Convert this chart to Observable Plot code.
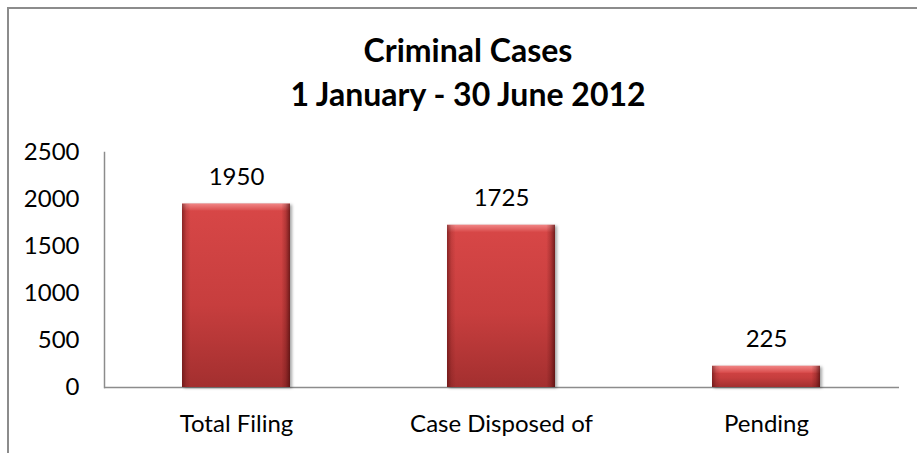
<!DOCTYPE html>
<html>
<head>
<meta charset="utf-8">
<script src="https://cdn.jsdelivr.net/npm/d3@7"></script>
<script src="https://cdn.jsdelivr.net/npm/@observablehq/plot@0.6"></script>
<style>
  html, body { margin: 0; padding: 0; background: #fff; }
  #wrap { position: relative; width: 917px; height: 453px; overflow: hidden; font-family: Lato, "Open Sans", sans-serif; }
  #border { position: absolute; left: 7px; top: 7px; width: 930px; height: 470px; border-left: 2px solid #8c8c8c; border-top: 2px solid #8c8c8c; }
  #chart { position: absolute; left: 0; top: 0; }
  #title { position: absolute; left: 0; top: 28px; width: 936px; text-align: center; font-weight: bold; font-size: 32px; line-height: 44px; color: #000; }
</style>
</head>
<body>
<div id="wrap">
  <div id="border"></div>
  <div id="chart"></div>
  <div id="title"></div>
</div>
<script>
const categories = ["Total Filing", "Case Disposed of", "Pending"];
const values = [1950, 1725, 225];
const yTicks = [0, 500, 1000, 1500, 2000, 2500];
const titleLines = ["Criminal Cases", "1 January - 30 June 2012"];

const data = categories.map((c, i) => ({category: c, value: values[i]}));

document.getElementById("title").innerHTML = titleLines.map(t => `<div>${t}</div>`).join("");

const plot = Plot.plot({
  width: 917,
  height: 453,
  marginLeft: 104,
  marginRight: 18,
  marginTop: 152,
  marginBottom: 66,
  style: {fontFamily: "Lato, 'Open Sans', sans-serif", fontSize: "24px", color: "#000", background: "transparent", overflow: "visible"},
  x: {domain: categories, paddingInner: 0.592, paddingOuter: 0.296},
  y: {domain: [0, 2500]},
  marks: [
    Plot.ruleY([0], {stroke: "#8c8c8c", strokeWidth: 1.5}),
    Plot.frame({anchor: "left", stroke: "#8c8c8c", strokeWidth: 1.5}),
    Plot.barY(data, {x: "category", y: "value", fill: "#000", fillOpacity: 0.35, dx: 2, dy: 1}),
    Plot.barY(data, {x: "category", y: "value", fill: "url(#gBody)"}),
    Plot.barY(data, {x: "category", y1: "value", y2: "value", insetBottom: -7, fill: "url(#gBevel)"}),
    Plot.barY(data, {x: "category", y: "value", fill: "url(#gSide)"}),
    Plot.text(data, {x: "category", y: "value", text: d => String(d.value), dy: -27, fill: "#000"}),
    Plot.axisY(yTicks, {tickSize: 0, tickPadding: 25, label: null, fill: "#000", tickFormat: d => String(d)}),
    Plot.axisX({tickSize: 0, tickPadding: 27, label: null, fill: "#000"})
  ]
});

const svg = d3.select(plot);
const defs = svg.insert("defs", ":first-child");
function grad(id, x2, y2, stops) {
  const g = defs.append("linearGradient").attr("id", id)
    .attr("x1", 0).attr("y1", 0).attr("x2", x2).attr("y2", y2);
  stops.forEach(([o, c, a]) => g.append("stop").attr("offset", o).attr("stop-color", c).attr("stop-opacity", a == null ? 1 : a));
}
grad("gBody", 0, 1, [["0%", "#d84747"], ["55%", "#c73e3e"], ["100%", "#a32f2f"]]);
grad("gBevel", 0, 1, [["0%", "#f08484"], ["100%", "#d94b4b"]]);
grad("gSide", 1, 0, [["0%", "#4a0a0a", 0.55], ["4%", "#4a0a0a", 0.15], ["8%", "#4a0a0a", 0], ["92%", "#4a0a0a", 0], ["96%", "#4a0a0a", 0.25], ["100%", "#3a0505", 0.65]]);
const f = defs.append("filter").attr("id", "blur").attr("x", "-20%").attr("y", "-20%").attr("width", "140%").attr("height", "140%");
f.append("feGaussianBlur").attr("stdDeviation", 1.8);
svg.selectAll('g[aria-label="bar"]').filter((d, i) => i === 0).attr("filter", "url(#blur)");

document.getElementById("chart").appendChild(plot);
</script>
</body>
</html>
